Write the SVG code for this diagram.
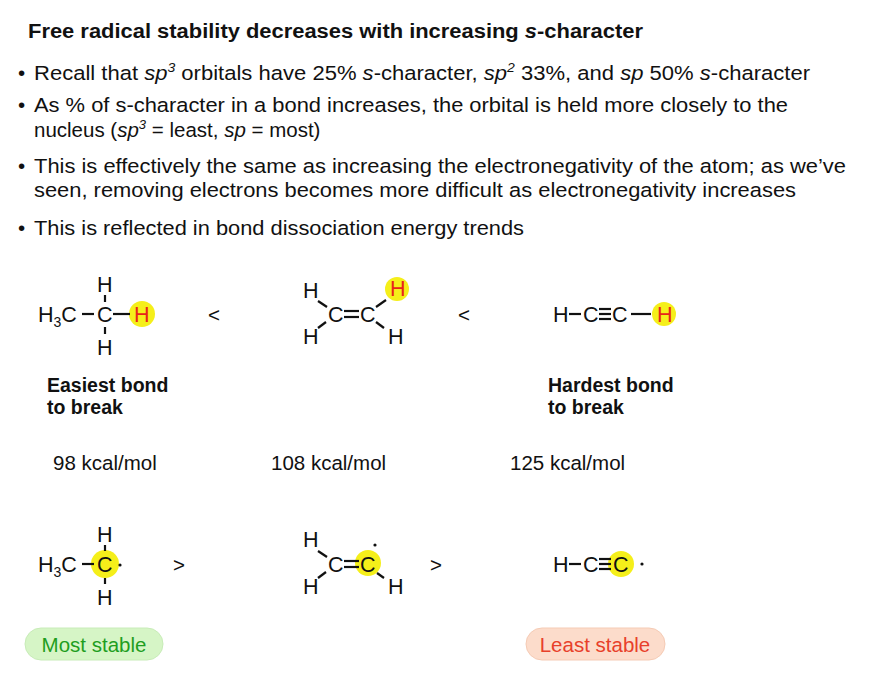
<svg xmlns="http://www.w3.org/2000/svg" width="872" height="698" viewBox="0 0 872 698">
<style>
text{font-family:"Liberation Sans",Arial,sans-serif;fill:#111}
.b{font-size:20.5px}
.t{font-size:19.5px;font-weight:bold}
.m{font-size:20.5px}
.s{font-size:21.5px}
.hl{fill:#f5ef1a}
.red{fill:#e8231a}
.bond{stroke:#111;stroke-width:2.2}
</style>
<rect width="872" height="698" fill="#fff"/>
<text class="t" x="28" y="38" textLength="615" lengthAdjust="spacingAndGlyphs">Free radical stability decreases with increasing <tspan font-style="italic">s</tspan>-character</text>
<g id="bullets" class="b">
<text x="18" y="80">•</text>
<text x="34" y="80" textLength="776" lengthAdjust="spacingAndGlyphs">Recall that <tspan font-style="italic">sp</tspan><tspan font-size="13" dy="-8" font-style="italic">3</tspan><tspan dy="8"> orbitals have 25% </tspan><tspan font-style="italic">s</tspan>-character, <tspan font-style="italic">sp</tspan><tspan font-size="13" dy="-8" font-style="italic">2</tspan><tspan dy="8"> 33%, and </tspan><tspan font-style="italic">sp</tspan> 50% <tspan font-style="italic">s</tspan>-character</text>
<text x="18" y="112">•</text>
<text x="34" y="112" textLength="754" lengthAdjust="spacingAndGlyphs">As % of s-character in a bond increases, the orbital is held more closely to the</text>
<text x="34" y="137">nucleus (<tspan font-style="italic">sp</tspan><tspan font-size="13" dy="-8" font-style="italic">3</tspan><tspan dy="8"> = least, </tspan><tspan font-style="italic">sp</tspan> = most)</text>
<text x="18" y="173">•</text>
<text x="34" y="173" textLength="812" lengthAdjust="spacingAndGlyphs">This is effectively the same as increasing the electronegativity of the atom; as we’ve</text>
<text x="34" y="197" textLength="762" lengthAdjust="spacingAndGlyphs">seen, removing electrons becomes more difficult as electronegativity increases</text>
<text x="18" y="235">•</text>
<text x="34" y="235" textLength="490" lengthAdjust="spacingAndGlyphs">This is reflected in bond dissociation energy trends</text>
</g>
<g id="ethane" class="s">
<circle class="hl" cx="142" cy="314" r="13"/>
<text x="38" y="322">H<tspan font-size="14" dy="5">3</tspan><tspan dy="-5">C</tspan></text>
<line class="bond" x1="82" y1="314" x2="94" y2="314"/>
<text x="97" y="322">C</text>
<line class="bond" x1="113" y1="314" x2="130" y2="314"/>
<text class="red" x="134" y="322">H</text>
<text x="97" y="292">H</text>
<line class="bond" x1="105" y1="295" x2="105" y2="302"/>
<line class="bond" x1="105" y1="327" x2="105" y2="334"/>
<text x="97" y="355">H</text>
</g>
<text class="m" x="208" y="322">&lt;</text>
<g id="ethylene" class="s">
<circle class="hl" cx="397" cy="289" r="12"/>
<text x="303" y="298">H</text>
<line class="bond" x1="318" y1="301" x2="327" y2="307"/>
<text x="328" y="322">C</text>
<line class="bond" x1="344" y1="311" x2="359" y2="311"/>
<line class="bond" x1="344" y1="317" x2="359" y2="317"/>
<text x="360" y="322">C</text>
<line class="bond" x1="376" y1="307" x2="386" y2="300"/>
<text class="red" x="390" y="296">H</text>
<line class="bond" x1="326" y1="322" x2="318" y2="328"/>
<text x="303" y="344">H</text>
<line class="bond" x1="376" y1="322" x2="384" y2="328"/>
<text x="388" y="344">H</text>
</g>
<text class="m" x="458" y="322">&lt;</text>
<g id="acetylene" class="s">
<circle class="hl" cx="664" cy="314" r="12"/>
<text x="553" y="322">H</text>
<line class="bond" x1="569" y1="314" x2="581" y2="314"/>
<text x="583" y="322">C</text>
<line class="bond" x1="599" y1="309" x2="611" y2="309"/>
<line class="bond" x1="599" y1="314" x2="611" y2="314"/>
<line class="bond" x1="599" y1="319" x2="611" y2="319"/>
<text x="612" y="322">C</text>
<line class="bond" x1="631" y1="314" x2="651" y2="314"/>
<text class="red" x="657" y="322">H</text>
</g>
<g id="labels">
<text class="t" x="47" y="392">Easiest bond</text>
<text class="t" x="47" y="414">to break</text>
<text class="t" x="548" y="392">Hardest bond</text>
<text class="t" x="548" y="414">to break</text>
<text class="m" x="53" y="470">98 kcal/mol</text>
<text class="m" x="271" y="470">108 kcal/mol</text>
<text class="m" x="510" y="470">125 kcal/mol</text>
</g>
<g id="ethyl" class="s">
<circle class="hl" cx="105" cy="564" r="14"/>
<text x="38" y="572">H<tspan font-size="14" dy="5">3</tspan><tspan dy="-5">C</tspan></text>
<line class="bond" x1="82" y1="564" x2="94" y2="564"/>
<text x="97" y="572">C</text>
<circle cx="120" cy="565" r="1.6" fill="#111"/>
<text x="97" y="542">H</text>
<line class="bond" x1="105" y1="545" x2="105" y2="551"/>
<line class="bond" x1="105" y1="578" x2="105" y2="584"/>
<text x="97" y="605">H</text>
</g>
<text class="m" x="173" y="572">&gt;</text>
<g id="vinyl" class="s">
<circle class="hl" cx="368" cy="563" r="13"/>
<text x="303" y="547">H</text>
<line class="bond" x1="318" y1="551" x2="327" y2="557"/>
<text x="328" y="572">C</text>
<line class="bond" x1="344" y1="561" x2="359" y2="561"/>
<line class="bond" x1="344" y1="567" x2="359" y2="567"/>
<text x="360" y="572">C</text>
<circle cx="375" cy="545" r="1.6" fill="#111"/>
<line class="bond" x1="377" y1="573" x2="384" y2="578"/>
<line class="bond" x1="326" y1="572" x2="318" y2="578"/>
<text x="303" y="594">H</text>
<text x="388" y="594">H</text>
</g>
<text class="m" x="430" y="572">&gt;</text>
<g id="acetylenyl" class="s">
<circle class="hl" cx="621" cy="564" r="13"/>
<text x="553" y="572">H</text>
<line class="bond" x1="569" y1="564" x2="581" y2="564"/>
<text x="583" y="572">C</text>
<line class="bond" x1="599" y1="559" x2="611" y2="559"/>
<line class="bond" x1="599" y1="564" x2="611" y2="564"/>
<line class="bond" x1="599" y1="569" x2="611" y2="569"/>
<text x="613" y="572">C</text>
<circle cx="642" cy="564" r="1.6" fill="#111"/>
</g>
<g id="most-stable">
<rect x="25" y="628" width="138" height="32" rx="16" fill="#d6f5c6" stroke="#c8ecb8"/>
<text class="m" x="94" y="652" text-anchor="middle" style="fill:#1f9e1f">Most stable</text>
</g>
<g id="least-stable">
<rect x="526" y="628" width="139" height="32" rx="16" fill="#fcdccb" stroke="#f5cbb5"/>
<text class="m" x="595" y="652" text-anchor="middle" style="fill:#e8402a">Least stable</text>
</g>
</svg>
